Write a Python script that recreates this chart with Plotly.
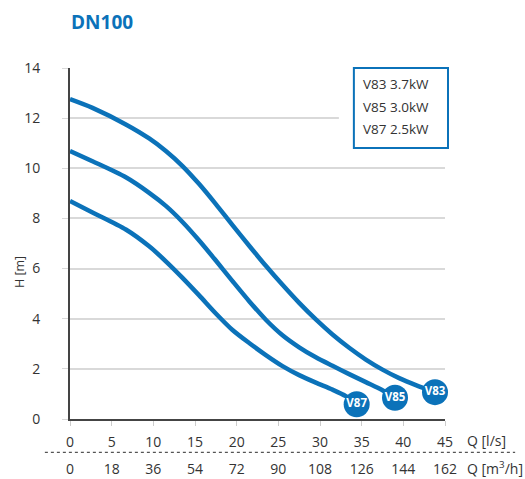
import plotly.graph_objects as go

# pump curves (Q in l/s, H in m)
v83_q = [0, 2.7, 6.7, 9.5, 11.5, 13.5, 15.5, 17.5, 19.5, 21.5, 23.5, 25.5, 27.5, 29.5, 31.5, 33.5, 35.5, 37.5, 39.5, 41.5, 43.8]
v83_h = [12.76, 12.41, 11.75, 11.19, 10.69, 10.09, 9.37, 8.57, 7.73, 6.91, 6.11, 5.35, 4.63, 3.97, 3.37, 2.84, 2.37, 1.97, 1.63, 1.35, 1.07]

v85_q = [0, 2.7, 6.7, 9.5, 11.5, 13.5, 15.5, 17.5, 19.5, 21.5, 23.5, 25.5, 27.5, 29.5, 31.5, 33.5, 35.5, 37.5, 39.0]
v85_h = [10.69, 10.28, 9.64, 9.02, 8.5, 7.86, 7.12, 6.32, 5.5, 4.7, 3.96, 3.34, 2.86, 2.46, 2.12, 1.79, 1.47, 1.15, 0.85]

v87_q = [0, 2.7, 6.7, 9.5, 11.5, 13.5, 15.5, 17.5, 19.5, 21.5, 23.5, 25.5, 27.5, 29.5, 31.5, 33.1, 34.4]
v87_h = [8.7, 8.24, 7.56, 6.89, 6.29, 5.63, 4.93, 4.21, 3.55, 3.03, 2.55, 2.11, 1.75, 1.45, 1.17, 0.91, 0.59]

names = ['V83', 'V85', 'V87']
legend_lines = ['V83 3.7kW', 'V85 3.0kW', 'V87 2.5kW']

q_ls_ticks = [0, 5, 10, 15, 20, 25, 30, 35, 40, 45]
q_m3h_ticks = ['0', '18', '36', '54', '72', '90', '108', '126', '144', '162']
h_ticks = [0, 2, 4, 6, 8, 10, 12, 14]

BLUE = '#0b72b9'
FONT = 'Open Sans'
TXT = '#333333'

fig = go.Figure()
for q, h in zip([v83_q, v85_q, v87_q], [v83_h, v85_h, v87_h]):
  fig.add_trace(go.Scatter(x=q, y=h, mode='lines', line=dict(color=BLUE, width=4.5, shape='spline', smoothing=0.8),
                           showlegend=False, hoverinfo='skip', cliponaxis=False))
for q, h, n in zip([v83_q, v85_q, v87_q], [v83_h, v85_h, v87_h], names):
  fig.add_trace(go.Scatter(x=[q[-1]], y=[h[-1]], mode='markers+text', text=[n], textposition='middle center',
                           marker=dict(size=26, color=BLUE), showlegend=False, cliponaxis=False,
                           textfont=dict(color='white', size=11.5, family=FONT, weight='bold')))

# invisible trace to carry the second (m3/h) tick row
fig.add_trace(go.Scatter(x=[0, 45], y=[0, 0], xaxis='x2', mode='lines', line=dict(width=0), showlegend=False, hoverinfo='skip'))

fig.update_layout(
  width=525, height=479,
  margin=dict(l=70, r=80, t=68, b=60),
  paper_bgcolor='white', plot_bgcolor='white',
  font=dict(family=FONT, size=14, color=TXT),
  xaxis=dict(range=[0, 45], tickvals=q_ls_ticks, showgrid=False, zeroline=False, automargin=False,
             showline=True, linecolor='#444444', linewidth=2, ticks='outside', ticklen=5, tickcolor='#cccccc',
             ticklabelstandoff=4, tickfont=dict(size=14, color=TXT)),
  xaxis2=dict(range=[0, 45], overlaying='x', side='bottom', anchor='y', tickvals=q_ls_ticks, ticktext=q_m3h_ticks,
              showgrid=False, zeroline=False, showline=False, ticks='', ticklabelstandoff=40, automargin=False,
              tickfont=dict(size=14, color=TXT)),
  yaxis=dict(range=[0, 14], tickvals=h_ticks, showgrid=True, gridcolor='#d9d9d9', gridwidth=1.5, zeroline=False,
             showline=True, linecolor='#444444', linewidth=2, ticks='outside', ticklen=6, tickcolor='#d9d9d9',
             ticklabelstandoff=19, tickfont=dict(size=14, color=TXT), automargin=False),
)

# title
fig.add_annotation(text='<b>DN100</b>', x=-0.004, y=1.131, xref='paper', yref='paper', xanchor='left', yanchor='middle',
                   showarrow=False, font=dict(size=19, color=BLUE, family=FONT))

# axis labels
fig.add_annotation(text='H [m]', x=-0.133, y=0.419, xref='paper', yref='paper', xanchor='center', yanchor='middle',
                   textangle=-90, showarrow=False, font=dict(size=12.5, color=TXT))
fig.add_annotation(text='Q [l/s]', x=1.053, y=-0.06, xref='paper', yref='paper', xanchor='left', yanchor='middle',
                   showarrow=False, font=dict(size=14, color=TXT))
fig.add_annotation(text='Q [m<sup>3</sup>/h]', x=1.053, y=-0.139, xref='paper', yref='paper', xanchor='left', yanchor='middle',
                   showarrow=False, font=dict(size=14, color=TXT))

# dotted separator between the two Q rows
fig.add_shape(type='line', xref='paper', yref='paper', x0=-0.067, x1=1.187, y0=-0.095, y1=-0.095,
              line=dict(color='#555555', width=1.2, dash='dot'))

# legend box (white cover over gridlines, then blue frame)
fig.add_shape(type='rect', xref='paper', yref='paper', x0=0.717, x1=1.01, y0=0.76, y1=1.005,
              fillcolor='white', line=dict(width=0), layer='above')
fig.add_shape(type='rect', xref='paper', yref='paper', x0=0.757, x1=1.008, y0=0.772, y1=1.0,
              fillcolor='white', line=dict(color=BLUE, width=2), layer='above')
for i, t in enumerate(legend_lines):
  fig.add_annotation(text=t, x=0.776, y=0.954 - i * 0.064, xref='paper', yref='paper', xanchor='left', yanchor='middle',
                     showarrow=False, font=dict(size=13.5, color=TXT))

fig.write_html('out.html', config={'displayModeBar': False}, post_script="document.body.style.margin='0';")
